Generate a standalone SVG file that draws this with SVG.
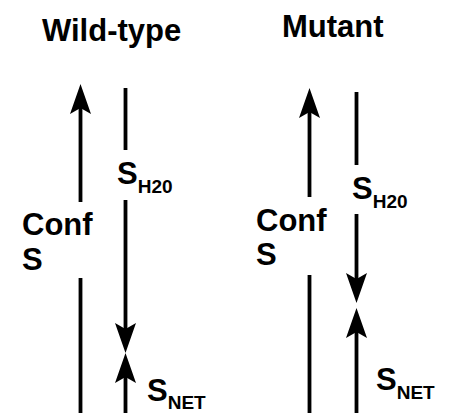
<svg xmlns="http://www.w3.org/2000/svg" width="450" height="415" viewBox="0 0 450 415">
  <style>
    text { font-family: "Liberation Sans", Arial, sans-serif; font-weight: bold; fill: #000; }
    .title { font-size: 31px; }
    .lbl { font-size: 31px; }
    .sub { font-size: 19px; }
    .flow { stroke: #000; stroke-width: 3.8; fill: none; }
  </style>
  <defs>
    <!-- notched arrowhead; tip sits 10 units beyond the path end -->
    <marker id="head" viewBox="-32 -12 34 24" refX="-10" refY="0" markerWidth="34" markerHeight="24" markerUnits="userSpaceOnUse" orient="auto">
      <path d="M0,0 L-30,-10.5 L-24,0 L-30,10.5 Z" fill="#000"/>
    </marker>
  </defs>

  <!-- panel titles -->
  <g id="title-wildtype"><text class="title" x="42" y="41">Wild-type</text></g>
  <g id="title-mutant"><text class="title" x="282" y="37">Mutant</text></g>

  <!-- labels -->
  <g id="wt-conf">
    <text class="lbl" x="22" y="235">Conf</text>
    <text class="lbl" x="22" y="270">S</text>
  </g>
  <g id="wt-sh20"><text class="lbl" x="117" y="184">S<tspan class="sub" dy="9">H20</tspan></text></g>
  <g id="wt-snet"><text class="lbl" x="147" y="401">S<tspan class="sub" dy="8">NET</tspan></text></g>

  <g id="mut-conf">
    <text class="lbl" x="256" y="231">Conf</text>
    <text class="lbl" x="256" y="265">S</text>
  </g>
  <g id="mut-sh20"><text class="lbl" x="352" y="199">S<tspan class="sub" dy="9">H20</tspan></text></g>
  <g id="mut-snet"><text class="lbl" x="376" y="390">S<tspan class="sub" dy="9">NET</tspan></text></g>

  <!-- connectors -->
  <g id="connectors">
    <!-- wild-type -->
    <path class="flow" d="M80.5,202 V94" marker-end="url(#head)"/>
    <path class="flow" d="M80.5,278 V413"/>
    <path class="flow" d="M125.5,88 V150"/>
    <path class="flow" d="M125.5,200 V343" marker-end="url(#head)"/>
    <path class="flow" d="M125.5,413 V363" marker-end="url(#head)"/>
    <!-- mutant -->
    <path class="flow" d="M309.5,197 V98" marker-end="url(#head)"/>
    <path class="flow" d="M309.5,275 V413"/>
    <path class="flow" d="M356.5,92 V165"/>
    <path class="flow" d="M356.5,214 V293" marker-end="url(#head)"/>
    <path class="flow" d="M356.5,413 V318" marker-end="url(#head)"/>
  </g>
</svg>
